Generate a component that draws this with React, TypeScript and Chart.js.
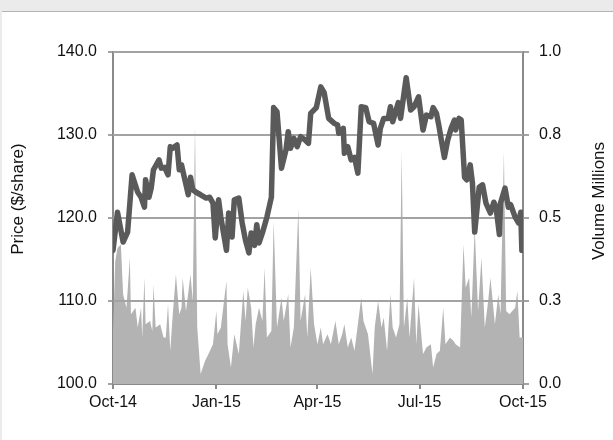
import React, { useEffect, useRef } from "react";
import { Chart, registerables } from "chart.js";

Chart.register(...registerables);

// ---- Data (x = days since 1 Oct 2014) ----
const tickDays = [0, 92, 182, 273, 365];
const tickLabels = ["Oct-14", "Jan-15", "Apr-15", "Jul-15", "Oct-15"];

const priceDays = [
  0, 4, 9, 13, 17, 22, 25, 28, 29, 32,
  34, 36, 41, 43, 46, 49, 51, 53, 57, 59,
  61, 64, 67, 69, 71, 74, 78, 83, 86, 89,
  91, 94, 96, 101, 103, 106, 108, 112, 115, 118,
  121, 123, 126, 128, 130, 133, 137, 141, 143, 146,
  150, 154, 156, 158, 161, 164, 167, 171, 174, 176,
  181, 185, 188, 192, 197, 200, 201, 205, 206, 209,
  212, 215, 218, 221, 225, 228, 232, 236, 238, 241,
  245, 247, 249, 254, 256, 261, 265, 268, 272, 276,
  279, 283, 285, 288, 290, 295, 298, 301, 304, 305,
  308, 310, 313, 315, 318, 320, 322, 326, 329, 332,
  336, 339, 341, 344, 345, 349, 352, 354, 358, 361,
  363, 364,
];

const prices = [
  116.1, 120.7, 117.1, 118.3, 125.2, 123.1, 122.5, 121.3, 124.6, 122.5,
  123.6, 125.8, 127.0, 126.0, 126.1, 125.2, 128.6, 128.4, 128.8, 125.8,
  126.4, 124.6, 122.8, 124.9, 123.4, 123.1, 122.8, 122.4, 122.5, 121.8,
  117.6, 122.2, 120.1, 116.1, 120.6, 117.7, 122.2, 122.4, 119.4, 117.3,
  115.8, 118.2, 116.7, 119.2, 117.0, 118.2, 120.1, 122.5, 133.3, 132.8,
  126.0, 128.2, 130.4, 128.4, 129.6, 128.6, 129.8, 129.4, 129.0, 132.6,
  133.3, 135.8, 135.1, 132.0, 131.4, 131.2, 130.2, 130.8, 127.8, 128.6,
  127.0, 127.3, 125.4, 133.4, 133.3, 131.6, 131.4, 128.8, 130.8, 132.0,
  132.0, 133.4, 131.6, 133.9, 132.0, 136.9, 133.0, 133.4, 134.6, 130.6,
  132.4, 132.2, 133.3, 132.6, 131.2, 127.3, 129.4, 130.8, 131.8, 130.6,
  132.0, 131.8, 124.9, 124.6, 126.4, 124.2, 118.3, 123.7, 124.0, 121.8,
  120.6, 121.9, 121.3, 118.0, 121.8, 123.6, 121.3, 121.6, 120.1, 119.4,
  120.7, 116.1,
];

const volumeDays = [
  0, 2, 4, 7, 9, 12, 15, 16, 20, 22,
  25, 26, 28, 29, 33, 35, 36, 38, 42, 45,
  47, 49, 51, 53, 56, 59, 61, 62, 65, 69,
  71, 73, 75, 78, 82, 85, 89, 92, 93, 96,
  101, 102, 105, 108, 112, 116, 118, 120, 123, 125,
  127, 130, 133, 135, 137, 141, 143, 146, 150, 152,
  156, 158, 161, 165, 167, 171, 173, 176, 179, 182,
  185, 187, 191, 194, 198, 201, 204, 206, 209, 212,
  215, 218, 221, 223, 227, 231, 233, 236, 239, 241,
  244, 247, 249, 252, 255, 257, 259, 262, 264, 268,
  270, 272, 276, 279, 283, 285, 288, 291, 294, 296,
  300, 303, 305, 309, 312, 314, 317, 319, 322, 325,
  328, 331, 334, 336, 340, 343, 345, 348, 350, 353,
  358, 360, 362, 365,
];

const volumes = [
  0.16, 0.37, 0.41, 0.42, 0.27, 0.23, 0.38, 0.21, 0.23, 0.17,
  0.23, 0.14, 0.32, 0.18, 0.19, 0.16, 0.30, 0.17, 0.18, 0.14,
  0.14, 0.24, 0.10, 0.20, 0.33, 0.21, 0.23, 0.32, 0.22, 0.33,
  0.25, 0.78, 0.17, 0.03, 0.07, 0.09, 0.12, 0.22, 0.15, 0.17,
  0.31, 0.12, 0.05, 0.15, 0.09, 0.28, 0.19, 0.29, 0.23, 0.11,
  0.18, 0.23, 0.19, 0.35, 0.14, 0.16, 0.49, 0.17, 0.26, 0.19,
  0.27, 0.11, 0.17, 0.53, 0.19, 0.27, 0.14, 0.35, 0.18, 0.12,
  0.17, 0.12, 0.15, 0.12, 0.19, 0.12, 0.15, 0.18, 0.11, 0.14,
  0.10, 0.18, 0.26, 0.19, 0.15, 0.03, 0.17, 0.25, 0.17, 0.20,
  0.10, 0.27, 0.17, 0.14, 0.18, 0.70, 0.17, 0.26, 0.14, 0.32,
  0.12, 0.24, 0.09, 0.11, 0.12, 0.05, 0.09, 0.10, 0.23, 0.12,
  0.14, 0.13, 0.12, 0.11, 0.42, 0.29, 0.32, 0.20, 0.47, 0.22,
  0.38, 0.17, 0.25, 0.32, 0.18, 0.27, 0.21, 0.70, 0.22, 0.21,
  0.23, 0.28, 0.14, 0.14,
];

const priceTitle = "Price ($/share)";
const volumeTitle = "Volume Millions";

const FONT = "'Liberation Sans', Arial, Helvetica, sans-serif";
const TEXT = "#111111";
const GRID = "#a3a3a3";
const AXIS = "#8a8a8a";

const gridOverPlugin = {
  id: "gridOver",
  afterDatasetDraw(chart: any, args: any) {
    if (args.index !== 1) return;
    const ys = chart.scales.y;
    const { left, right } = chart.chartArea;
    const ctx = chart.ctx;
    ctx.save();
    ctx.strokeStyle = GRID;
    ctx.lineWidth = 2;
    ys.ticks.forEach((t: any) => {
      if (t.value <= ys.min) return;
      const py = Math.round(ys.getPixelForValue(t.value));
      ctx.beginPath();
      ctx.moveTo(left, py);
      ctx.lineTo(right, py);
      ctx.stroke();
    });
    ctx.restore();
  },
};

const titlesPlugin = {
  id: "axisTitles",
  afterDraw(chart: any) {
    const ctx = chart.ctx;
    const { top, bottom } = chart.chartArea;
    const cy = (top + bottom) / 2 - 19;
    ctx.save();
    ctx.fillStyle = TEXT;
    ctx.font = `17px ${FONT}`;
    ctx.textAlign = "center";
    ctx.textBaseline = "middle";
    ctx.translate(18.5, cy);
    ctx.rotate(-Math.PI / 2);
    ctx.fillText(priceTitle, 0, 0);
    ctx.restore();
    ctx.save();
    ctx.fillStyle = TEXT;
    ctx.font = `17px ${FONT}`;
    ctx.textAlign = "center";
    ctx.textBaseline = "middle";
    ctx.translate(599.5, cy + 2);
    ctx.rotate(-Math.PI / 2);
    ctx.fillText(volumeTitle, 0, 0);
    ctx.restore();
  },
};

export default function App() {
  const ref = useRef<HTMLCanvasElement>(null);

  useEffect(() => {
    if (!ref.current) return;
    const priceData = priceDays.map((d, i) => ({ x: d, y: prices[i] }));
    const volumeData = volumeDays.map((d, i) => ({ x: d, y: volumes[i] }));
    const font = { family: FONT, size: 16 };

    const chart = new Chart(ref.current, {
      type: "line",
      data: {
        datasets: [
          {
            label: "Price",
            data: priceData,
            yAxisID: "y",
            borderColor: "#5a5a5a",
            borderWidth: 5.5,
            pointRadius: 0,
            tension: 0,
            fill: false,
            borderJoinStyle: "round",
            borderCapStyle: "round",
          } as any,
          {
            label: "Volume",
            data: volumeData,
            yAxisID: "y1",
            borderColor: "rgba(0,0,0,0)",
            borderWidth: 0,
            backgroundColor: "#b3b3b3",
            fill: "origin",
            pointRadius: 0,
            tension: 0,
          } as any,
        ],
      },
      options: {
        responsive: false,
        animation: false,
        layout: { padding: { top: 52, left: 0, right: 0, bottom: 0 } },
        plugins: {
          legend: { display: false },
          tooltip: { enabled: false },
        },
        scales: {
          x: {
            type: "linear",
            min: 0,
            max: 365,
            afterBuildTicks: (s: any) => {
              s.ticks = tickDays.map((v) => ({ value: v }));
            },
            afterFit: (s: any) => {
              s.height = 56;
            },
            ticks: {
              autoSkip: false,
              maxRotation: 0,
              padding: 4,
              color: TEXT,
              font,
              callback: (v: any) => tickLabels[tickDays.indexOf(Number(v))],
            },
            grid: {
              drawOnChartArea: false,
              tickLength: 5,
              tickColor: AXIS,
              lineWidth: 2,
            },
            border: { color: AXIS, width: 2 },
          },
          y: {
            position: "left",
            min: 100,
            max: 140,
            afterFit: (s: any) => {
              s.width = 113;
            },
            ticks: {
              stepSize: 10,
              padding: 11,
              color: TEXT,
              font,
              callback: (v: any) => Number(v).toFixed(1),
            },
            grid: {
              color: GRID,
              lineWidth: 2,
              tickLength: 5,
              tickColor: GRID,
            },
            border: { color: AXIS, width: 2 },
          },
          y1: {
            position: "right",
            min: 0,
            max: 1,
            afterFit: (s: any) => {
              s.width = 90;
            },
            ticks: {
              stepSize: 0.25,
              padding: 10,
              color: TEXT,
              font,
              callback: (v: any) => Number(v).toFixed(1),
            },
            grid: {
              drawOnChartArea: false,
              lineWidth: 2,
              tickLength: 6,
              tickColor: GRID,
            },
            border: { color: AXIS, width: 2 },
          },
        },
      } as any,
      plugins: [gridOverPlugin, titlesPlugin],
    });
    return () => chart.destroy();
  }, []);

  return (
    <div
      style={{
        position: "fixed",
        left: 0,
        top: 0,
        width: 613,
        height: 440,
        background: "#ebebeb",
        overflow: "hidden",
      }}
    >
      <div
        style={{
          position: "absolute",
          left: 2,
          top: 11,
          right: 0,
          bottom: 0,
          background: "#ffffff",
          borderTop: "1px solid #90bde6",
        }}
      />
      <canvas
        ref={ref}
        width={613}
        height={440}
        style={{ position: "absolute", left: 0, top: 0, width: 613, height: 440 }}
      />
    </div>
  );
}
